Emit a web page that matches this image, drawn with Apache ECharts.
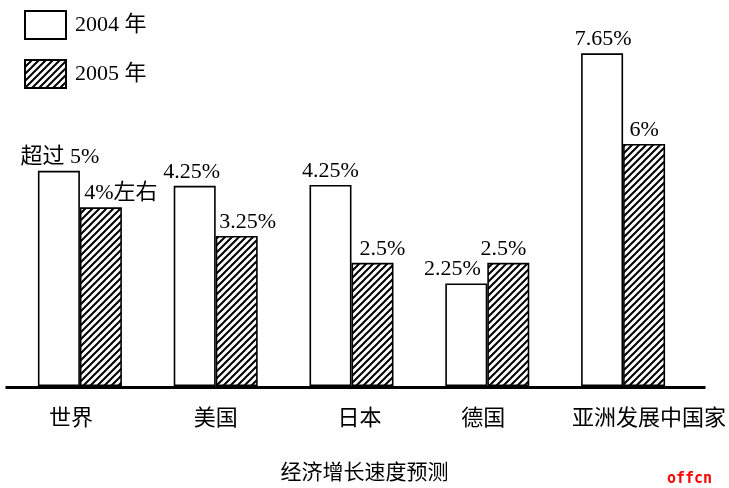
<!DOCTYPE html>
<html>
<head>
<meta charset="utf-8">
<script src="https://cdn.jsdelivr.net/npm/echarts@6/dist/echarts.min.js"></script>
<style>html,body{margin:0;padding:0;background:#fff}#c{width:729px;height:488px}</style>
</head>
<body>
<div id="c"></div>
<script>
// ---- data ----
const categories = ['世界', '美国', '日本', '德国', '亚洲发展中国家'];
const seriesNames = ['2004 年', '2005 年'];
// bar heights as drawn in the picture (drawing units)
const values2004 = [4.89, 4.55, 4.57, 2.33, 7.56];
const values2005 = [4.06, 3.41, 2.80, 2.80, 5.50];
// printed labels
const labels2004 = ['超过 5%', '4.25%', '4.25%', '2.25%', '7.65%'];
const labels2005 = ['4%左右', '3.25%', '2.5%', '2.5%', '6%'];
const chartTitle = '经济增长速度预测';
const watermark = 'offcn';

// ---- style ----
const shift2004 = [1, -3, 0, -14, 1];
const shift2005 = [20, 11, 10, -5, 0];
const catShift = [-9, 0, 8, -4, 26];

function hatch() {
  const s = 7, c = document.createElement('canvas');
  c.width = s; c.height = s;
  const g = c.getContext('2d');
  g.fillStyle = '#fff'; g.fillRect(0, 0, s, s);
  g.strokeStyle = '#000'; g.lineWidth = 2;
  g.beginPath();
  g.moveTo(-1, s + 1); g.lineTo(s + 1, -1);
  g.moveTo(-1, 1); g.lineTo(1, -1);
  g.moveTo(s - 1, s + 1); g.lineTo(s + 1, s - 1);
  g.stroke();
  return c;
}
const hatchFill = { image: hatch(), repeat: 'repeat' };
const serif = '"Liberation Serif", "Noto Sans CJK SC", serif';

function mk(vals, labs, shifts) {
  return vals.map((v, i) => ({
    value: v,
    label: { formatter: labs[i], offset: [shifts[i], 0] }
  }));
}

const chart = echarts.init(document.getElementById('c'), null, { renderer: 'canvas' });
chart.setOption({
  animation: false,
  backgroundColor: '#fff',
  title: [
    { text: chartTitle, left: 'center', top: 456,
      textStyle: { fontFamily: '"Noto Sans CJK SC"', fontSize: 21, fontWeight: 'normal', color: '#000' } },
    { text: watermark, left: 662, top: 467,
      textStyle: { fontFamily: '"DejaVu Sans Mono", monospace', fontSize: 15, fontWeight: 'bold', color: '#ff0000' } }
  ],
  legend: {
    orient: 'vertical', left: 19, top: 5,
    itemWidth: 41, itemHeight: 28, itemGap: 19,
    icon: 'rect',
    itemStyle: { borderColor: '#000', borderWidth: 2 },
    textStyle: { fontFamily: serif, fontSize: 22, color: '#000', padding: [0, 0, 0, 4] },
    data: seriesNames
  },
  grid: { left: 12, right: 37, top: 34, bottom: 102, containLabel: false },
  xAxis: {
    type: 'category',
    data: categories.map((c, i) => ({
      value: c,
      textStyle: { padding: catShift[i] >= 0 ? [0, 0, 0, 2 * catShift[i]] : [0, -2 * catShift[i], 0, 0] }
    })),
    axisLine: { show: false },
    axisTick: { show: false },
    axisLabel: { interval: 0, margin: 20, fontFamily: '"Noto Sans CJK SC"', fontSize: 22, color: '#000' }
  },
  yAxis: { type: 'value', min: 0, max: 8, show: false, splitLine: { show: false } },
  graphic: [
    { type: 'line', left: 3, top: 385, shape: { x1: 0, y1: 0, x2: 700, y2: 0 },
      style: { stroke: '#000', lineWidth: 3 } }
  ],
  series: [
    { name: seriesNames[0], type: 'bar', barWidth: 42, barGap: '0%',
      itemStyle: { color: '#fff', borderColor: '#000', borderWidth: 1.6 },
      label: { show: true, position: 'top', distance: 3, fontFamily: serif, fontSize: 22, color: '#000' },
      data: mk(values2004, labels2004, shift2004) },
    { name: seriesNames[1], type: 'bar', barWidth: 42, barGap: '0%',
      itemStyle: { color: hatchFill, borderColor: '#000', borderWidth: 1.6 },
      label: { show: true, position: 'top', distance: 3, fontFamily: serif, fontSize: 22, color: '#000' },
      data: mk(values2005, labels2005, shift2005) }
  ]
});
</script>
</body>
</html>
